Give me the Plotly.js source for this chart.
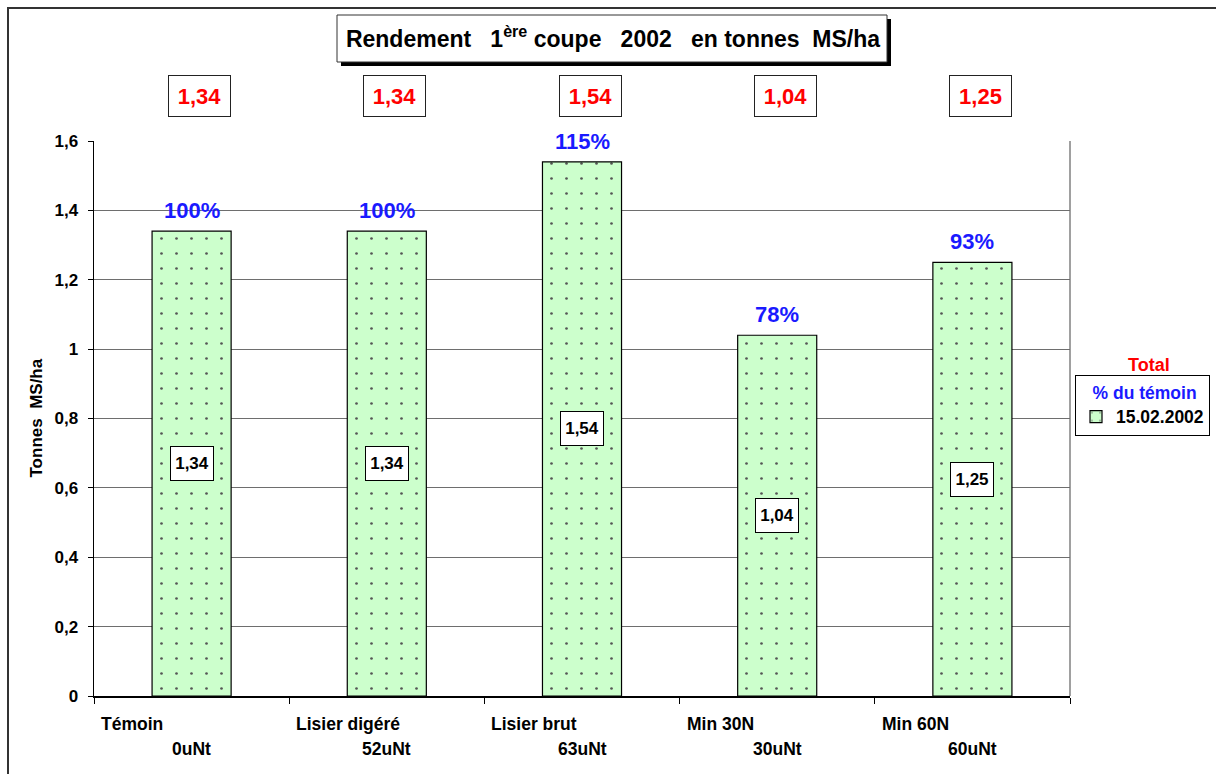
<!DOCTYPE html>
<html>
<head>
<meta charset="utf-8">
<script src="https://cdn.plot.ly/plotly-3.0.1.min.js"></script>
<style>
  html, body { margin: 0; padding: 0; background: #fff; }
  #chart { width: 1216px; height: 774px; }
</style>
</head>
<body>
<div id="chart"></div>
<script>
// ---- data ----
const categories = ["Témoin", "Lisier digéré", "Lisier brut", "Min 30N", "Min 60N"];
const labelLine1 = ["Témoin", "Lisier digéré", "Lisier brut", "Min 30N", "Min 60N"];
const labelLine2 = ["0uNt", "52uNt", "63uNt", "30uNt", "60uNt"];
const yieldValues = [1.34, 1.34, 1.54, 1.04, 1.25];
const valueLabels = ["1,34", "1,34", "1,54", "1,04", "1,25"];
const pctTemoin = [100, 100, 115, 78, 93];
const seriesName = "15.02.2002";
const titleText = "Rendement\u00a0\u00a0\u00a01<sup>ère</sup> coupe\u00a0\u00a0\u00a02002\u00a0\u00a0\u00a0en tonnes\u00a0\u00a0MS/ha";

// ---- layout helpers ----
const W = 1216, H = 774;
const M = { l: 94, r: 146, t: 141, b: 78, autoexpand: false };
const PW = W - M.l - M.r, PH = H - M.t - M.b;
const px = x => (x - M.l) / PW;          // pixel -> paper x
const py = y => (H - M.b - y) / PH;       // pixel -> paper y
const FONT = "Liberation Sans, Arial, Helvetica, sans-serif";
const xs = categories.map((c, i) => i);

const trace = {
  type: "bar",
  x: xs,
  y: yieldValues,
  name: seriesName,
  width: 0.405,
  marker: {
    color: "#ccffcc",
    line: { color: "#000", width: 1.2 },
    pattern: { shape: ".", bgcolor: "#ccffcc", fgcolor: "#555555", size: 15, solidity: 0.025 }
  },
  hoverinfo: "skip"
};

const annotations = [];
xs.forEach((x, i) => {
  // top totals
  annotations.push({
    xref: "x", yref: "paper", x: x, xshift: 8, y: py(96), yanchor: "middle",
    text: valueLabels[i], showarrow: false,
    font: { family: FONT, size: 22, color: "#ff0000", weight: "bold" },
    bgcolor: "#fff", bordercolor: "#222", borderwidth: 1, borderpad: 3,
    width: 55, height: 34
  });
  // percentage above bar
  annotations.push({
    xref: "x", yref: "y", x: x, y: yieldValues[i], yanchor: "bottom", yshift: 6,
    text: pctTemoin[i] + "%", showarrow: false,
    font: { family: FONT, size: 22, color: "#1a1aff", weight: "bold" }
  });
  // inner value box
  annotations.push({
    xref: "x", yref: "y", x: x, y: yieldValues[i] / 2, yanchor: "middle",
    text: valueLabels[i], showarrow: false,
    font: { family: FONT, size: 17, color: "#000", weight: "bold" },
    bgcolor: "#fff", bordercolor: "#000", borderwidth: 1, borderpad: 2,
    width: 38, height: 29
  });
  // category labels (two lines)
  annotations.push({
    xref: "x", yref: "paper", x: x - 0.5, xshift: 5, xanchor: "left",
    y: py(724), yanchor: "middle",
    text: labelLine1[i], showarrow: false,
    font: { family: FONT, size: 17.5, color: "#000", weight: "bold" }
  });
  annotations.push({
    xref: "x", yref: "paper", x: x, y: py(749), yanchor: "middle",
    text: labelLine2[i], showarrow: false,
    font: { family: FONT, size: 17.5, color: "#000", weight: "bold" }
  });
});
// "Total" legend header
annotations.push({
  xref: "paper", yref: "paper", x: px(1149), xanchor: "center", y: py(365), yanchor: "middle",
  text: "Total", showarrow: false,
  font: { family: FONT, size: 18, color: "#ff0000", weight: "bold" }
});
// y axis title
annotations.push({
  xref: "paper", yref: "paper", x: px(36), xanchor: "center", y: 0.5, yanchor: "middle",
  text: "Tonnes\u00a0\u00a0MS/ha", textangle: -90, showarrow: false,
  font: { family: FONT, size: 17, color: "#000", weight: "bold" }
});

const shapes = [
  // outer chart border
  { type: "rect", xref: "paper", yref: "paper", x0: px(8), x1: px(1240), y0: py(8), y1: py(800),
    line: { color: "#333", width: 2 }, fillcolor: "rgba(0,0,0,0)", layer: "below" },
  // right plot border (gray)
  { type: "line", xref: "paper", yref: "paper", x0: 1, x1: 1, y0: 0, y1: 1,
    line: { color: "#808080", width: 1.5 }, layer: "below" },
  // title shadow
  { type: "rect", xref: "paper", yref: "paper", x0: px(341), x1: px(891), y0: py(19), y1: py(66),
    line: { width: 0 }, fillcolor: "#000", layer: "above" },
  // title box
  { type: "rect", xref: "paper", yref: "paper", x0: px(337), x1: px(887), y0: py(15), y1: py(62),
    line: { color: "#333", width: 1 }, fillcolor: "#fff", layer: "above" }
];

const layout = {
  width: W, height: H,
  margin: M,
  paper_bgcolor: "#fff",
  plot_bgcolor: "#fff",
  separators: ", ",
  font: { family: FONT, color: "#000" },
  title: {
    text: titleText,
    font: { family: FONT, size: 23, color: "#000", weight: "bold" },
    xref: "paper", x: px(613), xanchor: "center",
    yref: "container", y: 1 - 39 / H, yanchor: "middle"
  },
  showlegend: true,
  legend: {
    x: px(1075), xanchor: "left", y: py(375), yanchor: "top",
    bgcolor: "#fff", bordercolor: "#000", borderwidth: 1,
    font: { family: FONT, size: 17.5, color: "#000", weight: "bold" },
    title: { text: "   % du témoin", side: "top", font: { family: FONT, size: 17.5, color: "#1a1aff", weight: "bold" } },
    itemwidth: 30
  },
  bargap: 0.6,
  xaxis: {
    type: "linear",
    range: [-0.5, categories.length - 0.5],
    tickvals: xs.map(v => v - 0.5).concat([categories.length - 0.5]),
    showticklabels: false,
    ticks: "outside", ticklen: 6, tickcolor: "#000", tickwidth: 1,
    showline: true, linecolor: "#000", linewidth: 1.5,
    showgrid: false, zeroline: false, fixedrange: true
  },
  yaxis: {
    range: [0, 1.6],
    dtick: 0.2, tick0: 0,
    ticks: "outside", ticklen: 5, tickcolor: "#000",
    ticklabelstandoff: 6,
    tickfont: { family: FONT, size: 17, color: "#000", weight: "bold" },
    showline: true, linecolor: "#000", linewidth: 1.5,
    showgrid: true, gridcolor: "#6e6e6e", gridwidth: 1,
    zeroline: false, fixedrange: true
  },
  annotations: annotations,
  shapes: shapes
};

Plotly.newPlot("chart", [trace], layout, { displayModeBar: false, staticPlot: true });
</script>
</body>
</html>
